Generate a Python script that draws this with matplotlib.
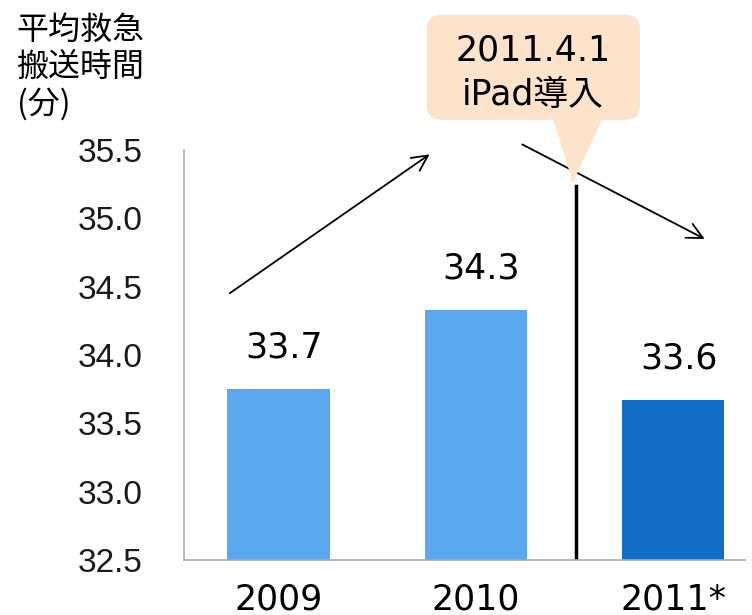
import matplotlib.pyplot as plt
from matplotlib.patches import FancyBboxPatch, Polygon

plt.rcParams['font.family'] = ['DejaVu Sans', 'Noto Sans CJK JP']

# data
years = ['2009', '2010', '2011*']
times = [33.75, 34.33, 33.67]
time_labels = ['33.7', '34.3', '33.6']
bar_colors = ['#5aa9f0', '#5aa9f0', '#106ec6']
yticks = [32.5, 33.0, 33.5, 34.0, 34.5, 35.0, 35.5]

fig = plt.figure(figsize=(7.52, 6.15), dpi=100)
ax = fig.add_axes([0.2447, 0.0894, 0.746, 0.6667])

x = list(range(len(years)))
ax.bar(x, [t - 32.5 for t in times], bottom=32.5, width=0.52, color=bar_colors, zorder=2)

for xi, t, lab in zip(x, times, time_labels):
    ax.annotate(lab, (xi, t), xytext=(4, 30), textcoords='offset points',
                ha='center', va='center', fontsize=25, color='black')

ax.set_xlim(-0.48, 2.365)
ax.set_ylim(32.5, 35.5)
ax.set_xticks(x)
ax.set_xticklabels(years, fontsize=25)
ax.set_yticks(yticks)
ax.set_yticklabels([f'{v:.1f}' for v in yticks], fontsize=24, family='Liberation Sans', color='#1a1a1a')
ax.tick_params(axis='y', length=0, pad=30)
ax.tick_params(axis='x', length=0, pad=16)

for s in ['top', 'right']:
    ax.spines[s].set_visible(False)
ax.spines['left'].set_color('#aaaaaa')
ax.spines['bottom'].set_color('#aaaaaa')
ax.spines['left'].set_linewidth(1.2)
ax.spines['bottom'].set_linewidth(1.2)

# iPad divider line
ax.plot([1.51, 1.51], [32.52, 35.24], color='black', lw=2.5, zorder=3, clip_on=False)

# trend arrows
ax.annotate('', xy=(0.777, 35.48), xytext=(-0.26, 34.44),
            arrowprops=dict(arrowstyle='->', lw=1.3, color='black', mutation_scale=28),
            annotation_clip=False)
ax.annotate('', xy=(2.173, 34.84), xytext=(1.223, 35.55),
            arrowprops=dict(arrowstyle='->', lw=1.3, color='black', mutation_scale=28),
            annotation_clip=False)

# callout
peach = '#fde3c9'
box = FancyBboxPatch((0.751 + 0.076, 35.72 + 0.11), 1.081 - 0.152, 0.77 - 0.22,
                     boxstyle='round,pad=0.076', mutation_aspect=1.44,
                     facecolor=peach, edgecolor='none', clip_on=False, zorder=4)
ax.add_patch(box)
tri = Polygon([(1.39, 35.74), (1.645, 35.74), (1.492, 35.26)], closed=True,
              facecolor=peach, edgecolor='none', clip_on=False, zorder=4)
ax.add_patch(tri)
ax.text(1.288, 36.23, '2011.4.1', ha='center', va='center', fontsize=25, zorder=5)
ax.text(1.288, 35.90, 'iPad導入', ha='center', va='center', fontsize=25, zorder=5)

fig.text(0.022, 0.978, '平均救急\n搬送時間\n(分)', ha='left', va='top', fontsize=23,
         family=['Noto Sans CJK JP', 'DejaVu Sans'], linespacing=1.2)

fig.savefig('out.png', dpi=100)
